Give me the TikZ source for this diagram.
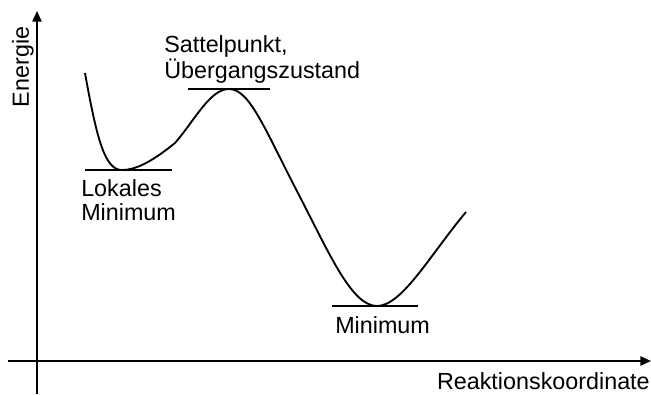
\documentclass[tikz,border=0pt]{standalone}
\usepackage{fontspec}
\setmainfont{Liberation Sans}
\usetikzlibrary{arrows.meta}

\begin{document}
\begin{tikzpicture}[
  x=0.75pt,y=-0.75pt,
  axis/.style={line width=1.2pt,-{Triangle[length=8pt,width=7pt]}},
  level/.style={line width=1.1pt},
  lbl/.style={font=\fontsize{17.5}{18}\selectfont,align=left,inner sep=0pt},
  curve/.style={line width=1.4pt}]
  \useasboundingbox (0,0) rectangle (651,394);
  % axes
  \draw[axis] (37,394) -- (37,11);
  \draw[axis] (8,361) -- (651,361);
  \node[lbl,rotate=90,anchor=south] (energy) at (34,67) {Energie};
  \node[lbl,anchor=base east] (rc) at (650,389) {Reaktionskoordinate};
  % energy profile
  \draw[curve] (85,73) .. controls (97,140) and (105,170) .. (122,170)
    .. controls (140,170) and (160,155) .. (175,143)
    .. controls (195,120) and (210,89) .. (229,89)
    .. controls (250,89) and (265,130) .. (300,197)
    .. controls (330,255) and (352,306) .. (377,306)
    .. controls (402,306) and (430,255) .. (466,212);
  % levels
  \draw[level] (85,170) -- (172,170);
  \draw[level] (188,89) -- (270,89);
  \draw[level] (332,306) -- (418,306);
  % labels
  \node[lbl,anchor=base west] (saddle) at (164,78) {Sattelpunkt,\\Übergangszustand};
  \node[lbl,anchor=base west] (localmin) at (81,220) {Lokales\\Minimum};
  \node[lbl,anchor=base west] (globalmin) at (335,333) {Minimum};
\end{tikzpicture}
\end{document}
